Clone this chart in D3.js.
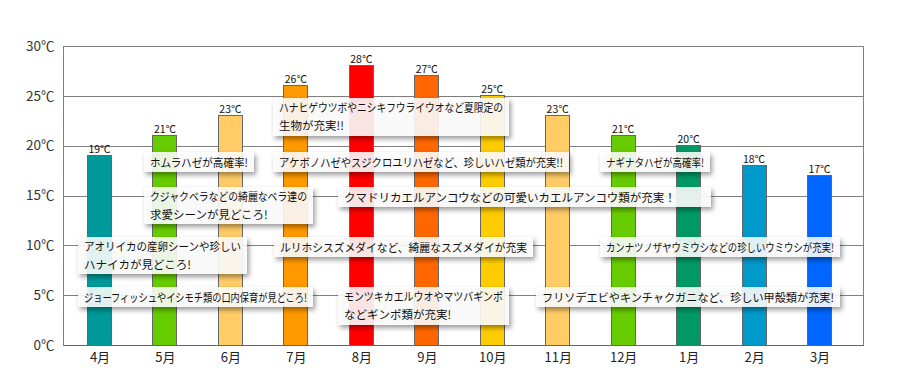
<!DOCTYPE html>
<html><head><meta charset="utf-8">
<script src="https://cdn.jsdelivr.net/npm/d3@7/dist/d3.min.js"></script>
<style>
html,body{margin:0;padding:0;background:#fff;}
svg{display:block;font-family:"Noto Sans CJK JP","Noto Sans",sans-serif;}
</style></head>
<body>
<svg id="chart" width="899" height="391"></svg>
<script>
const months = ["4月","5月","6月","7月","8月","9月","10月","11月","12月","1月","2月","3月"];
const temps = [19,21,23,26,28,27,25,23,21,20,18,17];
const barColors = ["#009999","#66cc00","#ffcc66","#ff9900","#ff0000","#ff6600","#ffcc00","#ffcc66","#66cc00","#009966","#0099cc","#0066ff"];
const yTicks = [0,5,10,15,20,25,30];
const notes = [
  {lines:["ハナヒゲウツボやニシキフウライウオなど夏限定の","生物が充実!!"], x:273, y:98, w:236, h:38},
  {lines:["ホムラハゼが高確率!"], x:144, y:152, w:110, h:20},
  {lines:["アケボノハゼやスジクロユリハゼなど、珍しいハゼ類が充実!!"], x:273, y:152, w:296, h:20},
  {lines:["ナギナタハゼが高確率!"], x:600, y:152, w:110, h:20},
  {lines:["クジャクベラなどの綺麗なベラ達の","求愛シーンが見どころ!"], x:144, y:187, w:169, h:37},
  {lines:["クマドリカエルアンコウなどの可愛いカエルアンコウ類が充実！"], x:338, y:187, w:373, h:20},
  {lines:["アオリイカの産卵シーンや珍しい","ハナイカが見どころ!"], x:78, y:237, w:169, h:37},
  {lines:["ルリホシスズメダイなど、綺麗なスズメダイが充実"], x:274, y:237, w:259, h:20},
  {lines:["カンナツノザヤウミウシなどの珍しいウミウシが充実!"], x:600, y:237, w:240, h:20},
  {lines:["ジョーフィッシュやイシモチ類の口内保育が見どころ!"], x:78, y:287, w:235, h:20},
  {lines:["モンツキカエルウオやマツバギンポ","などギンポ類が充実!"], x:338, y:287, w:171, h:38},
  {lines:["フリソデエビやキンチャクガニなど、珍しい甲殻類が充実!"], x:536, y:287, w:304, h:20}
];

const svg = d3.select("#chart");
const L = 63.5, R = 863.5, T = 46, B = 345;
const y = d3.scaleLinear().domain([0,30]).range([B,T]);
const x = d3.scalePoint().domain(months).range([99.5,819.5]);
const barW = 24;

const defs = svg.append("defs");
const f = defs.append("filter").attr("id","sh").attr("x","-10%").attr("y","-30%").attr("width","130%").attr("height","180%");
f.append("feDropShadow").attr("dx",2).attr("dy",3).attr("stdDeviation",2.5).attr("flood-color","#000").attr("flood-opacity",0.45);

// gridlines
const yAxis = d3.axisLeft(y).tickValues(yTicks).tickSize(-(R-L)).tickFormat(d => d + "℃").tickPadding(9);
const ga = svg.append("g").attr("transform",`translate(${L},0)`).call(yAxis);
ga.select(".domain").remove();
ga.selectAll(".tick line").attr("stroke","#808080").attr("stroke-width",1).attr("shape-rendering","crispEdges");
ga.selectAll(".tick text").attr("font-size",13.5).attr("fill","#333").attr("font-family","Noto Sans CJK JP, sans-serif");

// frame
svg.append("rect").attr("x",L).attr("y",T).attr("width",R-L).attr("height",B-T)
  .attr("fill","none").attr("stroke","#808080").attr("shape-rendering","crispEdges");
svg.append("line").attr("x1",L).attr("x2",R).attr("y1",B).attr("y2",B).attr("stroke","#666").attr("shape-rendering","crispEdges");

// bars
svg.append("g").selectAll("rect").data(temps).join("rect")
  .attr("x",(d,i)=>x(months[i])-barW/2)
  .attr("y",d=>y(d))
  .attr("width",barW)
  .attr("height",d=>B-y(d))
  .attr("fill",(d,i)=>barColors[i])
  .attr("stroke","#666").attr("stroke-width",1).attr("shape-rendering","crispEdges");

// value labels
svg.append("g").selectAll("text").data(temps).join("text")
  .attr("x",(d,i)=>x(months[i]))
  .attr("y",d=>y(d)-2.5)
  .attr("text-anchor","middle")
  .attr("font-size",10.5).attr("fill","#111")
  .attr("font-family","Noto Sans CJK JP, sans-serif")
  .text(d=>d+"℃");

// x axis labels
const xAxis = d3.axisBottom(x).tickSize(0).tickPadding(8);
const gx = svg.append("g").attr("transform",`translate(0,${B})`).call(xAxis);
gx.select(".domain").remove();
gx.selectAll(".tick text").attr("font-size",13).attr("fill","#222").attr("font-family","Noto Sans CJK JP, sans-serif");

// annotation boxes
const ng = svg.append("g").selectAll("g").data(notes).join("g");
ng.append("rect").attr("x",d=>d.x).attr("y",d=>d.y).attr("width",d=>d.w).attr("height",d=>d.h)
  .attr("fill","#fff").attr("fill-opacity",0.86).attr("filter","url(#sh)");
ng.each(function(d){
  const g = d3.select(this);
  d.lines.forEach((ln,k)=>{
    const t = g.append("text").attr("x",d.x+6)
      .attr("y", d.y + (d.lines.length===1 ? d.h/2+4.5 : 14 + k*18))
      .attr("font-size",11.5).attr("fill","#111").text(ln);
    const len = t.node().getComputedTextLength();
    const avail = d.w - 12;
    if (len > avail) t.attr("textLength",avail).attr("lengthAdjust","spacingAndGlyphs");
  });
});
</script>
</body></html>
